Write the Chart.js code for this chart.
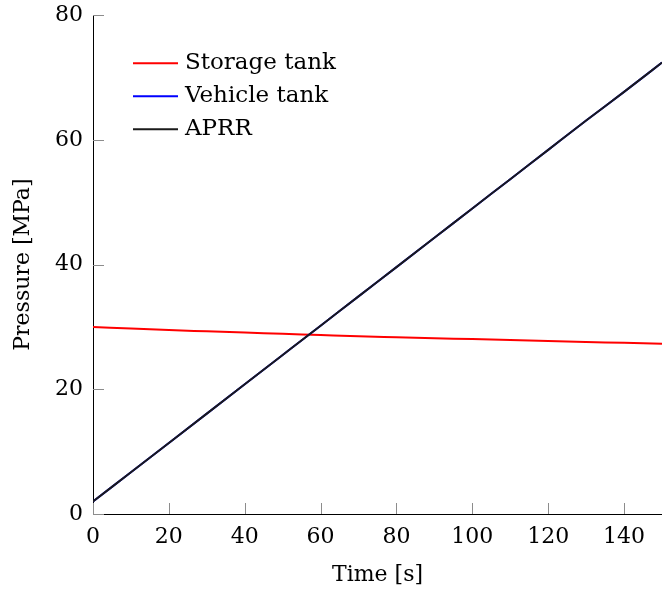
<!DOCTYPE html>
<html>
<head>
<meta charset="utf-8">
<script src="https://cdn.jsdelivr.net/npm/chart.js@4/dist/chart.umd.min.js"></script>
<style>
  html, body { margin: 0; padding: 0; background: #fff; }
  #wrap { width: 662px; height: 590px; }
</style>
</head>
<body>
<div id="wrap"><canvas id="pressureChart"></canvas></div>
<script>
// time samples [s]
const timeS = [0, 10, 20, 30, 40, 50, 60, 70, 80, 90, 100, 110, 120, 130, 140, 150];
// pressures [MPa]
const storageTank = [30.0, 29.75, 29.5, 29.3, 29.1, 28.9, 28.7, 28.5, 28.35, 28.2, 28.05, 27.9, 27.75, 27.6, 27.45, 27.3];
const vehicleTank = [2.0, 6.7, 11.4, 16.1, 20.8, 25.5, 30.2, 34.9, 39.6, 44.3, 49.0, 53.7, 58.4, 63.1, 67.7, 72.4];
const aprr        = [2.0, 6.7, 11.4, 16.1, 20.8, 25.5, 30.2, 34.9, 39.6, 44.3, 49.0, 53.7, 58.4, 63.1, 67.7, 72.4];

const xTicks = [0, 20, 40, 60, 80, 100, 120, 140];
const yTicks = [0, 20, 40, 60, 80];

const serif = '"DejaVu Serif", serif';
const pts = arr => arr.map((v, i) => ({ x: timeS[i], y: v }));

// tick marks pointing into the plot, light grey
const innerTicks = {
    id: 'innerTicks',
    afterDatasetsDraw(chart) {
        const { ctx, chartArea, scales } = chart;
        ctx.save();
        ctx.strokeStyle = '#8c8c8c';
        ctx.lineWidth = 1;
        ctx.beginPath();
        xTicks.forEach(v => {
            const px = Math.round(scales.x.getPixelForValue(v)) + 0.5;
            ctx.moveTo(px, chartArea.bottom);
            ctx.lineTo(px, chartArea.bottom - 11);
        });
        yTicks.forEach(v => {
            const py = Math.round(scales.y.getPixelForValue(v)) + 0.5;
            ctx.moveTo(chartArea.left, py);
            ctx.lineTo(chartArea.left + 11, py);
        });
        ctx.stroke();
        ctx.restore();
    }
};

// legend in the upper left of the plot
const insetLegend = {
    id: 'insetLegend',
    afterDraw(chart) {
        const { ctx, chartArea } = chart;
        const x0 = chartArea.left + 40, y0 = chartArea.top + 48, gap = 33;
        ctx.save();
        ctx.font = '23px ' + serif;
        ctx.textBaseline = 'middle';
        ctx.fillStyle = '#000';
        chart.data.datasets.forEach((ds, i) => {
            const y = y0 + i * gap;
            ctx.strokeStyle = ds.borderColor;
            ctx.lineWidth = 2;
            ctx.beginPath();
            ctx.moveTo(x0, y);
            ctx.lineTo(x0 + 45, y);
            ctx.stroke();
            ctx.fillText(ds.label, x0 + 52, y);
        });
        ctx.restore();
    }
};

new Chart(document.getElementById('pressureChart'), {
    type: 'line',
    data: {
        datasets: [
            { label: 'Storage tank', data: pts(storageTank), borderColor: '#ff0000', order: 2 },
            { label: 'Vehicle tank', data: pts(vehicleTank), borderColor: '#0000ff', order: 1 },
            { label: 'APRR', data: pts(aprr), borderColor: '#1a1a1a', order: 0 }
        ]
    },
    options: {
        responsive: true,
        maintainAspectRatio: false,
        animation: false,
        layout: { padding: { top: 11, right: 0, bottom: 0, left: 0 } },
        elements: {
            point: { radius: 0 },
            line: { borderWidth: 2, tension: 0.3, cubicInterpolationMode: 'monotone' }
        },
        plugins: { legend: { display: false }, tooltip: { enabled: false } },
        scales: {
            x: {
                type: 'linear',
                min: 0, max: 150,
                afterBuildTicks: s => { s.ticks = xTicks.map(v => ({ value: v })); },
                afterFit: s => { s.height = 76; },
                grid: { display: false },
                border: { display: true, color: '#000', width: 1 },
                ticks: { color: '#000', font: { family: serif, size: 22 }, padding: 2, maxRotation: 0 },
                title: { display: true, text: 'Time [s]', color: '#000', font: { family: serif, size: 22 }, padding: { top: 0, bottom: 2 } }
            },
            y: {
                min: 0, max: 80,
                afterBuildTicks: s => { s.ticks = yTicks.map(v => ({ value: v })); },
                afterFit: s => { s.width = 93; },
                grid: { display: false },
                border: { display: true, color: '#000', width: 1 },
                ticks: { color: '#000', font: { family: serif, size: 22 }, padding: 2 },
                title: { display: true, text: 'Pressure [MPa]', color: '#000', font: { family: serif, size: 22 }, padding: { top: 10, bottom: 0 } }
            }
        }
    },
    plugins: [innerTicks, insetLegend]
});
</script>
</body>
</html>
